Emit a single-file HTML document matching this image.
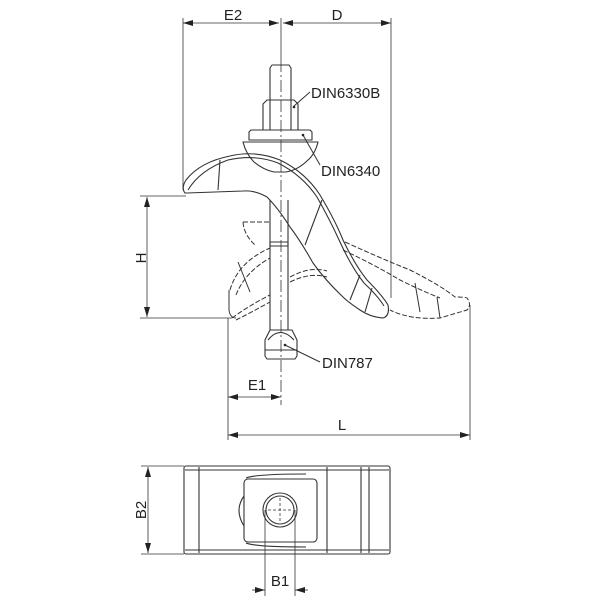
<!DOCTYPE html>
<html><head><style>body{margin:0;background:#fff}svg{display:block}text{font-family:"Liberation Sans",sans-serif;fill:#222}</style></head><body>
<svg width="600" height="600" viewBox="0 0 600 600" xmlns="http://www.w3.org/2000/svg">
<defs><marker id="a" viewBox="0 0 10 6" refX="10" refY="3" markerWidth="10" markerHeight="6" orient="auto-start-reverse" markerUnits="userSpaceOnUse"><path d="M0,0L10,3L0,6z" fill="#222"/></marker></defs>
<g stroke="#333" stroke-width="0.8" fill="none">
<line x1="183" y1="18" x2="183" y2="190"/>
<line x1="281" y1="18" x2="281" y2="60"/>
<line x1="281" y1="60" x2="281" y2="405" stroke-dasharray="12,3,2,3"/>
<line x1="391" y1="18" x2="391" y2="298"/>
<line x1="140" y1="196" x2="186" y2="196"/>
<line x1="140" y1="318" x2="232" y2="318"/>
<line x1="228" y1="318" x2="228" y2="440"/>
<line x1="470" y1="305" x2="470" y2="440"/>
<line x1="183" y1="23" x2="279" y2="23" marker-start="url(#a)" marker-end="url(#a)"/>
<line x1="283" y1="23" x2="391" y2="23" marker-start="url(#a)" marker-end="url(#a)"/>
<line x1="147" y1="197" x2="147" y2="317" marker-start="url(#a)" marker-end="url(#a)"/>
<line x1="228" y1="397" x2="281" y2="397" marker-start="url(#a)" marker-end="url(#a)"/>
<line x1="228" y1="435" x2="470" y2="435" marker-start="url(#a)" marker-end="url(#a)"/>
</g>
<g stroke="#333" stroke-width="1.1" fill="none" stroke-linejoin="round">
<path d="M270,100V68l2,-3h17l2,3V100"/>
<path d="M263,130V104l4,-4h27l4,4V130z"/>
<line x1="270" y1="100" x2="270" y2="130"/><line x1="291" y1="100" x2="291" y2="130"/>
<path d="M249,140V132l2,-2h59l2,2V140z"/>
<path d="M243,142h75q-3,12 -10,18q-10,10 -22,12h-12q-10,-2 -20,-10q-8,-8 -11,-20z"/>
<path d="M185,193Q181,188 186,180Q200,162 230,156Q255,150 280,160Q305,172 320,195Q335,220 343,240Q355,265 367,280Q382,295 388,305Q390,316 383,318Q370,317 360,310Q348,302 343,297Q325,280 313,263Q300,240 290,227Q278,208 267,197Q255,190 243,191L187,193z"/>
<path d="M188,190Q200,170 228,160Q255,154 278,163Q302,175 317,197Q330,220 340,242Q352,268 364,283Q378,296 384,306"/>
<line x1="220" y1="160" x2="218" y2="190"/><line x1="322" y1="200" x2="305" y2="245"/>
<line x1="360" y1="275" x2="350" y2="300"/><line x1="372" y1="288" x2="365" y2="312"/>
<path d="M270,200V330M288,200V330"/>
<rect x="270" y="242" width="18" height="4"/>
<path d="M270,330L265,340V356l2,3h28l2,-3V340L292,330z"/>
<path d="M268,340Q280,325 294,340"/><line x1="265" y1="350" x2="297" y2="350"/>
</g>
<g stroke="#333" stroke-width="1" fill="none" stroke-dasharray="5,2">
<path d="M243,222Q244,235 255,245M243,222H270"/>
<path d="M230,290Q238,262 270,248M236,295Q245,272 270,258"/>
<path d="M232,318Q250,305 270,295M236,320Q252,312 270,302"/>
<path d="M290,282Q310,272 327,277M290,277Q310,266 327,271"/>
<path d="M345,242Q380,258 410,270Q440,285 455,297Q465,297 467,298Q472,305 467,310Q450,315 440,318Q410,320 390,310M343,250Q375,265 400,280Q420,290 440,298"/>
</g>
<g stroke="#333" stroke-width="1" fill="none">
<path d="M229,290V310Q230,318 236,318"/>
<line x1="238" y1="262" x2="250" y2="292"/><line x1="415" y1="283" x2="420" y2="312"/><line x1="437" y1="297" x2="440" y2="318"/>
<path d="M294,106L310,92M303,135L320,165M285,345L320,362"/>
</g>
<circle cx="294" cy="107" r="1.3" fill="#222"/><circle cx="303" cy="135" r="1.3" fill="#222"/><circle cx="285" cy="345" r="1.3" fill="#222"/>
<g stroke="#333" stroke-width="1.1" fill="none">
<rect x="184" y="466" width="206" height="88" rx="2"/>
<line x1="199" y1="467" x2="199" y2="553"/><line x1="327" y1="467" x2="327" y2="553"/>
<line x1="361" y1="467" x2="361" y2="553"/><line x1="369" y1="467" x2="369" y2="553"/>
<line x1="185" y1="470" x2="389" y2="470"/><line x1="185" y1="550" x2="389" y2="550"/>
<rect x="244" y="479" width="73" height="63" rx="4"/>
<path d="M246,478q10,-4 60,-4M246,543q10,4 60,4"/>
<path d="M244,496q-10,14 0,30"/>
<circle cx="280" cy="510" r="17"/><circle cx="280" cy="510" r="14"/>
</g>
<g stroke="#333" stroke-width="0.8" fill="none">
<line x1="141" y1="466" x2="184" y2="466"/><line x1="141" y1="554" x2="184" y2="554"/>
<line x1="148" y1="467" x2="148" y2="553" marker-start="url(#a)" marker-end="url(#a)"/>
<line x1="265" y1="510" x2="265" y2="596"/><line x1="295" y1="510" x2="295" y2="596"/>
<line x1="252" y1="590" x2="265" y2="590" marker-end="url(#a)"/><line x1="308" y1="590" x2="295" y2="590" marker-end="url(#a)"/>
<path d="M268,510h24M280,498v24" stroke-dasharray="3,2"/>
</g>
<g font-size="15">
<text x="233" y="20" text-anchor="middle">E2</text>
<text x="337" y="20" text-anchor="middle">D</text>
<text x="311" y="98">DIN6330B</text>
<text x="321" y="176">DIN6340</text>
<text x="322" y="368">DIN787</text>
<text x="257" y="390" text-anchor="middle">E1</text>
<text x="342" y="430" text-anchor="middle">L</text>
<text x="280" y="586" text-anchor="middle">B1</text>
<text transform="translate(146,258) rotate(-90)" text-anchor="middle">H</text>
<text transform="translate(146,510) rotate(-90)" text-anchor="middle">B2</text>
</g>
</svg>
</body></html>
